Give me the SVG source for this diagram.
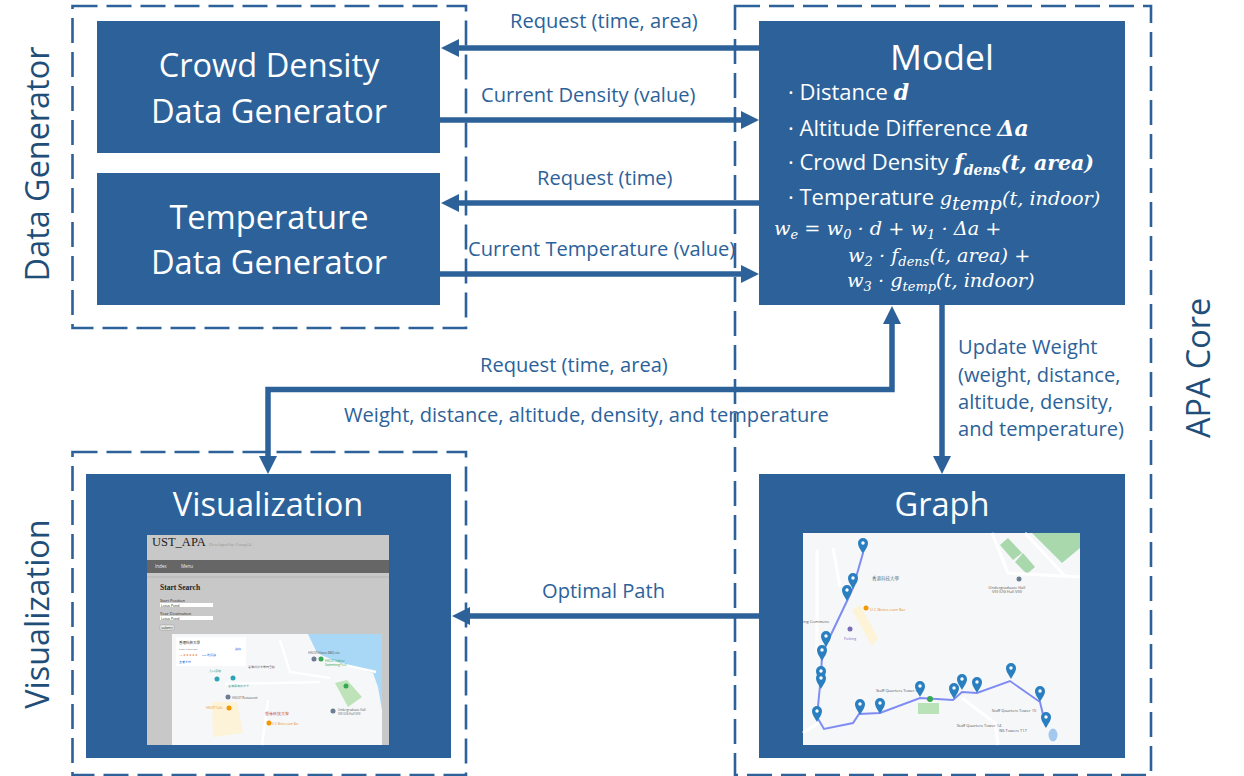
<svg xmlns="http://www.w3.org/2000/svg" width="1244" height="776" viewBox="0 0 1244 776">
<style>
text{font-family:"Open Sans","Liberation Sans",sans-serif}
.dash{fill:none;stroke:#2c6299;stroke-width:2.600;stroke-dasharray:25 9}
.box{fill:#2c6299}
.t{fill:#fff;text-anchor:middle;font-size:32.600px}
.l{fill:#2c6299;font-size:20.100px}
.side{fill:#1f4e79;font-size:32.400px;text-anchor:middle}
.m{fill:#fff;font-size:22px}
.e{fill:#fff;font-family:"DejaVu Serif","Liberation Serif",serif;font-style:italic;font-size:19.300px}
.b{font-weight:bold;font-style:italic;font-family:"DejaVu Serif","Liberation Serif",serif}
.c{fill:none;stroke:#2c6299;stroke-width:5.500}
.s{fill:#555;font-size:4px;text-anchor:middle}
.pin{fill:#2a7fc0}
</style>
<defs>
<marker id="a" markerUnits="userSpaceOnUse" markerWidth="18" markerHeight="18" refX="1" refY="9" orient="auto-start-reverse"><path d="M0 0L18 9L0 18Z" fill="#2c6299"/></marker>
<g id="p"><path class="pin" d="M0 0C-2-4-5-7-5-11A5 5 0 0 1 5-11C5-7 2-4 0 0Z"/><circle cy="-11" r="1.7" fill="#fff"/></g>
</defs>
<g id="frames">
<rect class="dash" x="72.500" y="6" width="393.500" height="322"/>
<rect class="dash" x="735" y="6" width="416" height="769"/>
<rect class="dash" x="72.500" y="452" width="393.500" height="323"/>
</g>
<g id="side-labels">
<text class="side" transform="translate(49 164) rotate(-90)">Data Generator</text>
<text class="side" transform="translate(49 614) rotate(-90)">Visualization</text>
<text class="side" transform="translate(1210 368) rotate(-90)">APA Core</text>
</g>
<g id="crowd"><rect class="box" x="97" y="21" width="343" height="132"/>
<text class="t" x="269" y="77">Crowd Density</text><text class="t" x="269" y="123">Data Generator</text></g>
<g id="temp"><rect class="box" x="97" y="173" width="343" height="132"/>
<text class="t" x="269" y="229">Temperature</text><text class="t" x="269" y="274">Data Generator</text></g>
<g id="model"><rect class="box" x="759" y="21" width="366" height="284"/>
<text class="t" x="942" y="70" style="font-size:35.500px">Model</text>
<text class="m" x="788" y="100">· Distance <tspan class="b">d</tspan></text>
<text class="m" x="788" y="136">· Altitude Difference <tspan class="b" font-style="normal">Δa</tspan></text>
<text class="m" x="788" y="170">· Crowd Density <tspan class="b">f</tspan><tspan class="b" font-size="14" dy="5">dens</tspan><tspan class="b" dy="-5" font-size="20.500">(t, area)</tspan></text>
<text class="m" x="788" y="205">· Temperature <tspan class="e" font-size="21">g</tspan><tspan class="e" font-size="13.500" dy="5">temp</tspan><tspan class="e" dy="-5" font-size="21">(t, indoor)</tspan></text>
<text class="e" x="774" y="235">w<tspan font-size="13" dy="4">e</tspan><tspan dy="-4"> = w</tspan><tspan font-size="13" dy="4">0</tspan><tspan dy="-4"> · d + w</tspan><tspan font-size="13" dy="4">1</tspan><tspan dy="-4"> · Δa +</tspan></text>
<text class="e" x="848" y="262" font-size="19.800">w<tspan font-size="13" dy="4">2</tspan><tspan dy="-4"> · f</tspan><tspan font-size="13" dy="4">dens</tspan><tspan dy="-4">(t, area) +</tspan></text>
<text class="e" x="847" y="287">w<tspan font-size="13" dy="4">3</tspan><tspan dy="-4"> · g</tspan><tspan font-size="13" dy="4">temp</tspan><tspan dy="-4">(t, indoor)</tspan></text>
</g>
<g id="visualization"><rect class="box" x="86" y="474" width="365" height="284"/>
<text class="t" x="268" y="516">Visualization</text>
<rect x="147" y="535" width="242" height="210" fill="#c8c8c8"/>
<rect x="147" y="560" width="242" height="13" fill="#666"/>
<path d="M147 577H389" stroke="#b5b5b5" stroke-width="1"/>
<text x="152" y="546" font-size="12.500" fill="#222" style="font-family:'Liberation Serif',serif">UST_APA</text>
<text x="209" y="546" font-size="4.500" fill="#999" style="font-family:'Liberation Serif',serif">Developed by Group14</text>
<text x="155" y="568" font-size="4.500" fill="#eee">Index</text><text x="181" y="568" font-size="4.500" fill="#eee">Menu</text>
<text x="160" y="590" font-size="7.500" font-weight="bold" fill="#222" style="font-family:'Liberation Serif',serif">Start Search</text>
<text x="160" y="602" font-size="4" fill="#222">Start Position</text>
<rect x="160" y="603" width="53" height="4" fill="#fff"/><text x="161" y="606.500" font-size="3.500" fill="#222">Lotus Pond</text>
<text x="160" y="615" font-size="4" fill="#222">Your Destination</text>
<rect x="160" y="616" width="53" height="4" fill="#fff"/><text x="161" y="619.500" font-size="3.500" fill="#222">Lotus Pond</text>
<rect x="160" y="625" width="14" height="5" rx="1" fill="#eee" stroke="#888" stroke-width=".4"/><text x="167" y="629" font-size="3.500" fill="#222" text-anchor="middle">submit</text>
<rect x="172" y="634" width="210" height="111" fill="#f6f7f9"/>
<path d="M308 634L317 653L340 663L373 673L378 687L382 710V634Z" fill="#a8d8f5"/>
<path d="M335 683L347 680L362 697L348 707Z" fill="#bfe3b8"/>
<path d="M212 702H237L243 733L213 737Z" fill="#fcf3d9"/>
<path d="M280 640L290 672L330 678M225 684L320 682M340 664L376 672M262 745L268 700" fill="none" stroke="#fff" stroke-width="2.500"/>
<rect x="176" y="637" width="70" height="29" fill="#fff"/>
<text x="179" y="644" font-size="3.500" fill="#222" style="font-family:'Noto Sans CJK TC',sans-serif">香港科技大學</text>
<text x="179" y="650" font-size="2.500" fill="#666">Clear Water Bay</text>
<text x="179" y="656" font-size="2.500" fill="#e8710a">4.6 ★★★★★</text>
<text x="202" y="656" font-size="2.500" fill="#1a73e8">373 條評論</text>
<text x="179" y="663" font-size="2.500" fill="#1a73e8">查看大圖</text>
<text x="235" y="650" font-size="2.500" fill="#1a73e8">路線</text>
<text x="248" y="668" font-size="3" fill="#555">香港科技大學圖書館</text>
<text x="209" y="672" font-size="3" fill="#2a9d8f">入口廣場</text>
<text x="228" y="687" font-size="3" fill="#2a9d8f">香港賽馬會大堂</text>
<text x="232" y="699" font-size="3" fill="#555">HKUST Restaurant</text>
<text x="206" y="709" font-size="3" fill="#e8921a">HKUST Cafe</text>
<text x="265" y="715" font-size="3.500" fill="#c0392b">香港科技大學</text>
<text x="272" y="725" font-size="3" fill="#e8921a">U C Bistro-cum Bar</text>
<text x="338" y="711" font-size="3" fill="#555">Undergraduate Hall</text>
<text x="338" y="715" font-size="3" fill="#555">VIII (UG Hall VIII)</text>
<text x="308" y="654" font-size="3" fill="#555">HKUST Hiwon BBQ site</text>
<text x="325" y="662" font-size="3" fill="#2e9e4f">HKUST Indoor</text>
<text x="325" y="666" font-size="3" fill="#2e9e4f">Swimming Pool</text>
<circle cx="217" cy="679" r="2.500" fill="#2aa5b8"/><circle cx="233" cy="678" r="2.500" fill="#2aa5b8"/><circle cx="228" cy="697" r="2.500" fill="#6b7c93"/><circle cx="229" cy="708" r="2.500" fill="#f29900"/><circle cx="269" cy="723" r="2.500" fill="#f29900"/><circle cx="333" cy="711" r="2.500" fill="#6b7c93"/><circle cx="321" cy="659" r="2.500" fill="#34a853"/><circle cx="314" cy="659" r="2.500" fill="#6b7c93"/><circle cx="346" cy="686" r="2.500" fill="#34a853"/>
</g>
<g id="graph"><rect class="box" x="759" y="474" width="366" height="284"/>
<text class="t" x="942" y="516">Graph</text>
<rect x="803" y="533" width="277" height="212" fill="#f6f7f9"/>
<path d="M1032 533H1080V548L1062 563Z" fill="#a8d8ac"/>
<path d="M1000 545L1008 538L1022 553L1013 560ZM1015 562L1023 553L1035 567L1027 574Z" fill="#a8d8ac"/>
<path d="M992 533L1008 573L1080 577M833 548L840 587M817 550V653M1025 533L1066 577M962 698L995 723L998 745M803 733L820 722M1010 681L1040 702" fill="none" stroke="#fff" stroke-width="3"/>
<path d="M852 610L860 605L878 638L872 646Z" fill="#fdf3d6"/>
<ellipse cx="1053" cy="735" rx="4.500" ry="6.500" fill="#a3c8f0"/>
<rect x="918" y="703" width="21" height="11" fill="#b9e2b8"/>
<text x="872" y="580" font-size="4.500" fill="#5a7d8c" style="font-family:'Noto Sans CJK TC',sans-serif">香港科技大學</text>
<text x="870" y="611" font-size="4" fill="#e8921a">U C Bistro-cum Bar</text>
<circle cx="866" cy="608" r="2.500" fill="#f29900"/>
<circle cx="1019" cy="579" r="2.500" fill="#6b7c93"/>
<text x="1007" y="589" class="s">Undergraduate Hall</text><text x="1007" y="593" class="s">VIII (UG Hall VIII)</text>
<circle cx="850" cy="629" r="2.500" fill="#7b6cb8"/>
<text x="850" y="640" class="s" style="fill:#7b6cb8;font-size:3.500px">Parking</text>
<text x="816" y="623" class="s">ing Commons</text>
<text x="897" y="692" class="s">Staff Quarters Tower 8</text>
<text x="979" y="727" class="s">Staff Quarters Tower 14</text>
<text x="1014" y="712" class="s">Staff Quarters Tower 15</text>
<text x="1013" y="732" class="s">NS Towers T17</text>
<path d="M863 553L853 588L847 601L826 645L822 656L821 675L817 717L824 729L853 723L859 714L880 713L920 698L953 700L962 692L977 693L1010 681L1040 702L1046 727" fill="none" stroke="#7f8cf2" stroke-width="2"/>
<circle cx="930" cy="699" r="3" fill="#34a853"/>
<use href="#p" x="863" y="554"/><use href="#p" x="853" y="589"/><use href="#p" x="847" y="601"/><use href="#p" x="826" y="647"/><use href="#p" x="822" y="661"/><use href="#p" x="821" y="682"/><use href="#p" x="821" y="689"/><use href="#p" x="817" y="722"/><use href="#p" x="860" y="715"/><use href="#p" x="880" y="714"/><use href="#p" x="920" y="697"/><use href="#p" x="954" y="699"/><use href="#p" x="962" y="690"/><use href="#p" x="977" y="693"/><use href="#p" x="1011" y="679"/><use href="#p" x="1040" y="702"/><use href="#p" x="1046" y="728"/>
</g>
<g id="connectors">
<path class="c" marker-end="url(#a)" d="M759 48H458"/>
<path class="c" marker-end="url(#a)" d="M440 120H742"/>
<path class="c" marker-end="url(#a)" d="M759 203H458"/>
<path class="c" marker-end="url(#a)" d="M440 274H742"/>
<path class="c" marker-end="url(#a)" d="M942 305V457"/>
<path class="c" marker-end="url(#a)" d="M759 616H469"/>
<path class="c" marker-start="url(#a)" marker-end="url(#a)" d="M268 457V389.500H892V323"/>
</g>
<g id="connector-labels">
<text class="l" x="510" y="28">Request (time, area)</text>
<text class="l" x="481" y="101.500">Current Density (value)</text>
<text class="l" x="537" y="184.500">Request (time)</text>
<text class="l" x="468" y="255.500">Current Temperature (value)</text>
<text class="l" x="480" y="371.500">Request (time, area)</text>
<text class="l" x="344" y="421.500">Weight, distance, altitude, density, and temperature</text>
<text class="l" x="958" y="353.500">Update Weight</text>
<text class="l" x="958" y="381.500">(weight, distance,</text>
<text class="l" x="958" y="408.500">altitude, density,</text>
<text class="l" x="958" y="436">and temperature)</text>
<text class="l" x="542" y="597.500">Optimal Path</text>
</g>
</svg>
